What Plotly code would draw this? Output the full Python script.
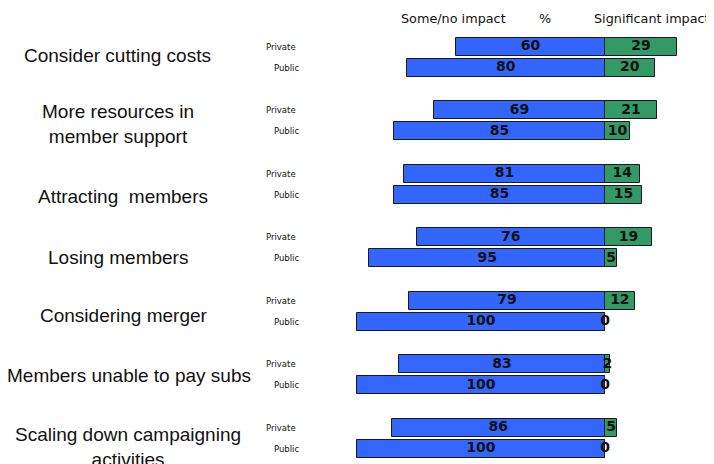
import numpy as np
import plotly.graph_objects as go

categories = [
    "Consider cutting costs",
    "More resources in<br>member support",
    "Attracting  members",
    "Losing members",
    "Considering merger",
    "Members unable to pay subs",
    "Scaling down campaigning<br>activities",
]
row_labels = ["Private", "Public"]
private_some = [60, 69, 81, 76, 79, 83, 86]
private_sig = [29, 21, 14, 19, 12, 2, 5]
public_some = [80, 85, 85, 95, 100, 100, 100]
public_sig = [20, 10, 15, 5, 0, 0, 0]
header_labels = ["Some/no impact", "%", "Significant impact"]

BLUE = "#3366FF"
GREEN = "#339966"
OFF = 8  # page body margin offset
W, H = 714 - OFF, 464 - OFF

g = np.arange(len(categories))
y_priv = 3 * g
y_pub = 3 * g + 1

some = np.array(private_some + public_some)
sig = np.array(private_sig + public_sig)
ys = np.concatenate([y_priv, y_pub])

fig = go.Figure()
line = dict(color="#1a1a1a", width=1)
fig.add_trace(go.Bar(x=-some, y=ys, orientation="h", width=0.85,
                     marker=dict(color=BLUE, line=line), hoverinfo="skip"))
fig.add_trace(go.Bar(x=sig, y=ys, orientation="h", width=0.85,
                     marker=dict(color=GREEN, line=line), hoverinfo="skip"))
txtfont = dict(family="DejaVu Sans", size=14, color="#111", weight="bold")
fig.add_trace(go.Scatter(x=-some / 2, y=ys, mode="text", text=[str(v) for v in some],
                         textfont=txtfont, textposition="middle center", hoverinfo="skip"))
fig.add_trace(go.Scatter(x=sig / 2, y=ys, mode="text", text=[str(v) for v in sig],
                         textfont=txtfont, textposition="middle center", hoverinfo="skip"))

px_per_unit_y = 21.18
ymin = -(46.5 - OFF) / px_per_unit_y
ymax = ymin + H / px_per_unit_y
px_per_unit_x = 2.48
xmin = -(605 - OFF) / px_per_unit_x
xmax = xmin + W / px_per_unit_x


def px_x(p):
    return (p - OFF) / W


def px_y(p):
    return 1 - (p - OFF) / H


ann = []
cat_x = [117, 118, 123, 117.5, 123.5, 129, 128]
cat_y = [55, 124.5, 196.5, 257, 315, 375, 447]
for c, cx, cy in zip(categories, cat_x, cat_y):
    ann.append(dict(text=c, x=px_x(cx), y=px_y(cy), xref="paper", yref="paper",
                    xanchor="center", yanchor="middle", showarrow=False,
                    font=dict(family="Liberation Sans", size=19, color="#111")))
for yp, yq in zip(y_priv, y_pub):
    ann.append(dict(text=row_labels[0], x=px_x(281), y=yp, xref="paper", yref="y",
                    xanchor="center", yanchor="middle", showarrow=False,
                    font=dict(family="DejaVu Sans", size=8.5, color="#111")))
    ann.append(dict(text=row_labels[1], x=px_x(286), y=yq, xref="paper", yref="y",
                    xanchor="center", yanchor="middle", showarrow=False,
                    font=dict(family="DejaVu Sans", size=8.5, color="#111")))
hdr_x = [453.5, 545, 712]
hdr_anchor = ["center", "center", "right"]
for t, hx, xa in zip(header_labels, hdr_x, hdr_anchor):
    ann.append(dict(text=t, x=px_x(hx), y=px_y(18.5), xref="paper", yref="paper",
                    xanchor=xa, yanchor="middle", showarrow=False,
                    font=dict(family="DejaVu Sans", size=12.8, color="#111")))

fig.update_layout(
    width=W, height=H, margin=dict(l=0, r=0, t=0, b=0),
    paper_bgcolor="white", plot_bgcolor="white",
    barmode="overlay", showlegend=False, bargap=0,
    xaxis=dict(range=[xmin, xmax], visible=False, fixedrange=True),
    yaxis=dict(range=[ymax, ymin], visible=False, fixedrange=True),
    annotations=ann,
)
fig.write_html("out.html")
